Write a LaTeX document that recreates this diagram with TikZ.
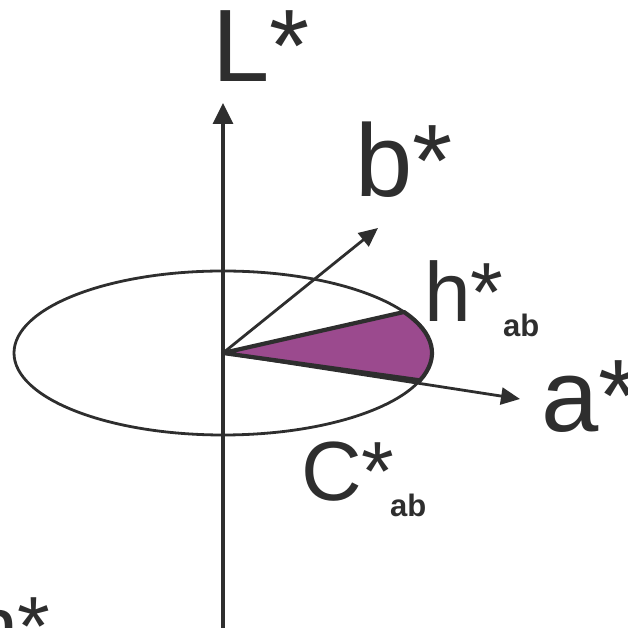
\documentclass[tikz,border=0pt]{standalone}
\usepackage{fontspec}
\setmainfont{Liberation Sans}
\usetikzlibrary{arrows.meta,calc}
\definecolor{ink}{HTML}{2E2E2E}
\definecolor{hue}{HTML}{9B4A8E}
\begin{document}
\begin{tikzpicture}[x=1pt,y=1pt,
  big/.style={anchor=base west,inner sep=0pt,text=ink,font=\fontsize{103}{103}\selectfont},
  mid/.style={anchor=base west,inner sep=0pt,text=ink,font=\fontsize{84}{84}\selectfont},
  sub/.style={anchor=base west,inner sep=0pt,text=ink,font=\fontsize{31}{31}\selectfont\bfseries},
  axis/.style={draw=ink,line width=3.2pt,-{Triangle[length=21pt,width=20pt]}},
  vec/.style={draw=ink,line width=2.8pt,-{Triangle[length=19pt,width=17pt]}},
  rim/.style={draw=ink,line width=2.8pt},
  wedge/.style={draw=ink,line width=4.2pt,fill=hue,line join=round}]
\useasboundingbox (0,0) rectangle (627,628);
\coordinate (O) at (223,275);
\coordinate (P1) at ($(O)+(30:209pt and 82pt)$);
\coordinate (P2) at ($(O)+(-19.5:209pt and 82pt)$);
\coordinate (B) at (378,400);
\coordinate (A) at (520,229);
\coordinate (Lb) at (223,0);
\coordinate (Lt) at (223,525);
\draw[rim] (O) ellipse [x radius=209pt, y radius=82pt];
\draw[wedge] (O) -- (P1) arc[start angle=30, end angle=-19.5, x radius=209pt, y radius=82pt] -- cycle;
\draw[axis] (Lb) -- (Lt);
\draw[vec] (O) -- (B);
\draw[vec] (O) -- (A);
\node[big] (Llab) at (212,546) {L*};
\node[big] (blab) at (355,431) {b*};
\node[big] (alab) at (541,196) {a*};
\node[mid] (hlab) at (424,306) {h*};
\node[sub] (hsub) at (503,291) {ab};
\node[mid] (Clab) at (301,127) {C*};
\node[sub] (Csub) at (390,111) {ab};
\node[mid] (hcut) at (-29,-27) {h*};
\end{tikzpicture}
\end{document}
